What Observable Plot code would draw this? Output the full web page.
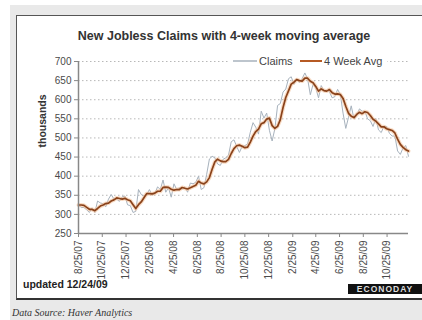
<!DOCTYPE html>
<html><head><meta charset="utf-8">
<script src="https://cdn.jsdelivr.net/npm/d3@7"></script>
<script src="https://cdn.jsdelivr.net/npm/@observablehq/plot@0.6"></script>
<style>
html,body{margin:0;padding:0;background:#fff;width:422px;height:320px;overflow:hidden;font-family:"Liberation Sans",Arial,sans-serif}
#outer{position:absolute;left:10px;top:5px;right:0;bottom:0;background:#e9e9e9}
#panel{position:absolute;left:16px;top:15px;width:406px;height:282px;background:#fff;border-left:1px solid #555;border-top:1px solid #555;border-bottom:2px solid #333}
#chart{position:absolute;left:0;top:0}
.t{position:absolute;white-space:nowrap}
#title{left:0;width:448px;top:29px;text-align:center;font-weight:bold;font-size:12.5px;color:#333}
#legend{left:229px;top:54px;width:158px;height:14px;background:#fff;font-size:11px;color:#444}
#updated{left:23px;top:278px;font-weight:bold;font-size:10.5px;color:#222}
#logo{left:348px;top:284px;width:74px;height:10px;background:#111;color:#ddd;font-weight:bold;font-size:8.5px;line-height:10px;letter-spacing:1px;text-align:center}
#source{left:12px;top:307px;font-family:"Liberation Serif","DejaVu Serif",serif;font-style:italic;font-size:10px;color:#333}
</style></head>
<body>
<div id="outer"></div>
<div id="panel"></div>
<div id="chart"></div>
<div class="t" id="title">New Jobless Claims with 4-week moving average</div>
<div class="t" id="legend"></div>
<div class="t" id="updated">updated 12/24/09</div>
<div class="t" id="logo">ECONODAY</div>
<div class="t" id="source">Data Source: Haver Analytics</div>
<script>
// weekly data, week ending Saturday, first week 8/25/07, last week 12/19/09
const firstWeek = "2007-08-25";
const claims = [
  325,318,318,312,305,317,305,335,330,328,320,340,352,340,340,334,346,348,325,
  323,305,308,365,352,348,352,365,350,355,372,365,390,358,370,345,380,365,370,366,372,358,
  382,380,384,400,365,370,405,445,452,448,432,428,444,448,455,490,495,478,462,478,480,484,
  515,540,528,510,570,552,565,520,
  492,524,585,590,620,628,655,660,640,655,645,655,670,655,613,640,631,605,637,623,625,621,
  605,608,627,614,565,525,554,584,550,558,576,570,570,550,545,530,551,521,514,531,530,512,
  505,505,466,457,474,480,452
];
const avg4 = [
  324.5,324.5,323.5,318.3,313.3,313.0,309.8,315.5,321.8,324.5,328.3,329.5,335.0,338.0,343.0,341.5,340.0,342.0,338.3,
  335.5,325.3,315.3,325.3,332.5,343.3,354.3,354.3,353.8,355.5,360.5,360.5,370.5,371.3,370.8,365.8,363.3,365.0,365.0,370.3,368.3,366.5,
  369.5,373.0,376.0,386.5,382.3,379.8,385.0,396.3,418.0,437.5,444.3,440.0,438.0,438.0,443.8,459.3,472.0,479.5,481.3,478.3,474.5,476.0,
  489.3,504.8,516.8,523.3,537.0,540.0,549.3,551.8,
  532.3,525.3,530.3,547.8,579.8,605.8,623.3,640.8,645.8,652.5,650.0,648.8,656.3,656.3,648.3,644.5,634.8,622.3,628.3,624.0,622.5,626.5,
  618.5,614.8,615.3,613.5,603.5,582.8,564.5,557.0,553.3,561.5,567.0,563.5,568.5,566.5,558.8,548.8,544.0,536.8,529.0,529.3,524.0,521.8,
  519.5,513.0,497.0,483.3,475.5,469.3,465.8
];
const xTickLabels = ["8/25/07","10/25/07","12/25/07","2/25/08","4/25/08","6/25/08","8/25/08",
  "10/25/08","12/25/08","2/25/09","4/25/09","6/25/09","8/25/09","10/25/09"];
const yTicks = [250,300,350,400,450,500,550,600,650,700];
const seriesNames = ["Claims","4 Week Avg"];

const weeks = d3.utcSaturday.range(new Date(firstWeek), new Date("2009-12-20"));
const data = claims.map((c,i)=>({date: weeks[i], claims: c, avg: avg4[i]}));
const parse = d3.utcParse("%m/%d/%y");
const xTicks = xTickLabels.map(parse);
const fmt = d3.utcFormat("%-m/%d/%y");

const chart = Plot.plot({
  width: 422, height: 320,
  marginLeft: 78, marginRight: 14, marginTop: 61, marginBottom: 87,
  style: {background: "transparent", fontFamily: "Liberation Sans, Arial, sans-serif", fontSize: "10px", color: "#4a4a4a", overflow: "visible"},
  x: {type: "utc", domain: [data[0].date, data[data.length-1].date]},
  y: {domain: [250, 700]},
  marks: [
    Plot.ruleY(yTicks.slice(1), {stroke: "#b8b8b8", strokeDasharray: "1.5,2.5"}),
    Plot.lineY(data, {x: "date", y: "claims", stroke: "#a7b2bd", strokeWidth: 1}),
    Plot.lineY(data, {x: "date", y: "avg", stroke: "#f3c39c", strokeWidth: 4, strokeOpacity: 0.6}),
    Plot.lineY(data, {x: "date", y: "avg", stroke: "#8a421a", strokeWidth: 1.7}),
    Plot.ruleX([data[0].date], {stroke: "#888", strokeWidth: 1.5}),
    Plot.ruleY([250], {stroke: "#888", strokeWidth: 1.5}),
    Plot.axisY({ticks: yTicks, tickSize: 4, tickPadding: 3, label: null, stroke: "#888"}),
    Plot.axisX({ticks: xTicks, tickFormat: fmt, tickRotate: -90, tickSize: 4, tickPadding: 3, label: null, stroke: "#888"}),
    Plot.text(["thousands"], {frameAnchor: "left", dx: -36, rotate: -90, fontWeight: "bold", fontSize: 10.5, fill: "#333"})
  ]
});
document.getElementById("chart").appendChild(chart);

// legend
const leg = d3.select("#legend");
const ls = leg.append("svg").attr("width",158).attr("height",14).style("position","absolute").style("left","0").style("top","0");
ls.append("line").attr("x1",4).attr("x2",28).attr("y1",7).attr("y2",7).attr("stroke","#a7b2bd").attr("stroke-width",1.5);
ls.append("text").attr("x",30).attr("y",11).attr("font-size",11).attr("fill","#444").text(seriesNames[0]);
ls.append("line").attr("x1",71).attr("x2",93).attr("y1",7).attr("y2",7).attr("stroke","#b65a24").attr("stroke-width",2);
ls.append("text").attr("x",95).attr("y",11).attr("font-size",11).attr("fill","#444").text(seriesNames[1]);
</script>
</body></html>
